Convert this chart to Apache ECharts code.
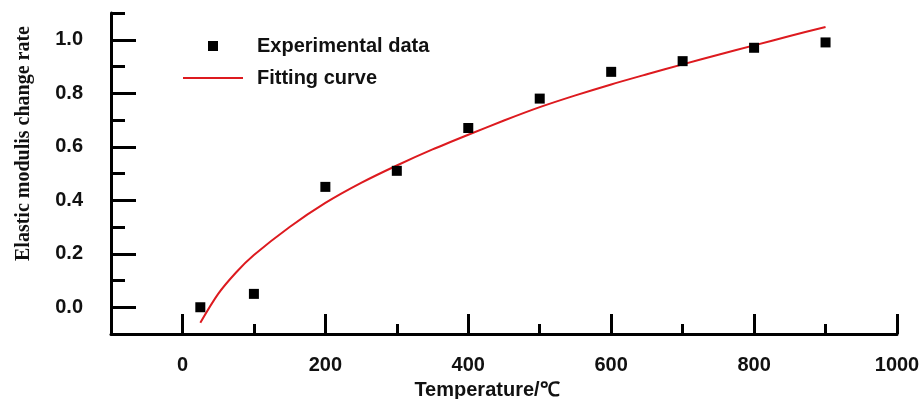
<!DOCTYPE html>
<html lang="en">
<head>
    <meta charset="UTF-8">
    <title>Elastic modulus change rate</title>
    <script src="https://cdn.jsdelivr.net/npm/echarts@6/dist/echarts.min.js"></script>
</head>
<body style="margin:0;background:#fff;">
    <div id="main" style="width:922px;height:399px;"></div>
    <script>
        // experimental points
        var expTemp = [25, 100, 200, 300, 400, 500, 600, 700, 800, 900];
        var expRate = [0.00, 0.05, 0.45, 0.51, 0.67, 0.78, 0.88, 0.92, 0.97, 0.99];
        // fitting curve
        var fitTemp = [25, 50, 75, 100, 150, 200, 250, 300, 350, 400, 450, 500, 550, 600, 650, 700, 750, 800, 850, 900];
        var fitRate = [-0.058, 0.05, 0.13, 0.195, 0.30, 0.39, 0.465, 0.53, 0.59, 0.645, 0.698, 0.748, 0.792, 0.833, 0.871, 0.908, 0.944, 0.979, 1.014, 1.048];
        // ticks
        var xMajor = [0, 200, 400, 600, 800, 1000];
        var xMinor = [100, 300, 500, 700, 900];
        var yMajor = [0, 0.2, 0.4, 0.6, 0.8, 1.0];
        var yMinor = [0.1, 0.3, 0.5, 0.7, 0.9, 1.1];

        var sans = 'Liberation Sans, Arial, sans-serif';

        var zip = function (xs, ys) {
            var res = [];
            for (var i = 0; i < xs.length; i++) {
                res.push([xs[i], ys[i]]);
            }
            return res;
        };

        // legend icons: bbox is the full 60x10 item box, so nothing gets stretched
        var squareIcon = 'path://M0,0h0.01v0.01h-0.01z M60,10h-0.01v-0.01h0.01z M25,0h10v10h-10z';
        var lineIcon = 'path://M0,0h0.01v0.01h-0.01z M60,10h-0.01v-0.01h0.01z M0,4h60v2h-60z';

        var chart = echarts.init(document.getElementById('main'));
        var option = {
            animation: false,
            grid: { left: 111, right: 25, top: 13, bottom: 65, outerBoundsMode: 'none', containLabel: false },
            legend: {
                orient: 'vertical',
                left: 183,
                top: 36,
                padding: 0,
                itemWidth: 60,
                itemHeight: 10,
                itemGap: 12,
                textStyle: { fontFamily: sans, fontWeight: 'bold', fontSize: 20, color: '#111', padding: [0, 0, 0, 9] },
                data: [
                    { name: 'Experimental data', icon: squareIcon, itemStyle: { color: '#000' } },
                    { name: 'Fitting curve', icon: lineIcon, itemStyle: { color: '#dd1a1f' } }
                ]
            },
            xAxis: [{
                type: 'value',
                min: -100,
                max: 1000,
                name: 'Temperature/℃',
                nameLocation: 'middle',
                nameGap: 46,
                nameTextStyle: { fontFamily: sans, fontWeight: 'bold', fontSize: 20, color: '#111', padding: [0, 34, 0, 0] },
                splitLine: { show: false },
                axisLine: { onZero: false, lineStyle: { color: '#000', width: 3 } },
                axisTick: { inside: true, length: 20, customValues: xMajor, lineStyle: { color: '#000', width: 3 } },
                axisLabel: {
                    customValues: xMajor, margin: 21,
                    fontFamily: sans, fontWeight: 'bold', fontSize: 20, color: '#111',
                    formatter: function (v) { return String(v); }
                }
            }, {
                type: 'value',
                min: -100,
                max: 1000,
                position: 'bottom',
                splitLine: { show: false },
                axisLine: { show: false, onZero: false },
                axisTick: { inside: true, length: 10, customValues: xMinor, lineStyle: { color: '#000', width: 3 } },
                axisLabel: { show: false }
            }],
            yAxis: [{
                type: 'value',
                min: -0.1,
                max: 1.1,
                name: 'Elastic modulis change rate',
                nameLocation: 'middle',
                nameGap: 77,
                nameTextStyle: { fontFamily: 'Liberation Serif, Times New Roman, serif', fontWeight: 'bold', fontSize: 20, color: '#111', padding: [0, 0, 0, 60] },
                splitLine: { show: false },
                axisLine: { onZero: false, lineStyle: { color: '#000', width: 3 } },
                axisTick: { inside: true, length: 25, customValues: yMajor, lineStyle: { color: '#000', width: 3 } },
                axisLabel: {
                    customValues: yMajor,
                    margin: 28,
                    fontFamily: sans, fontWeight: 'bold', fontSize: 20, color: '#111',
                    formatter: function (v) { return v.toFixed(1); }
                }
            }, {
                type: 'value',
                min: -0.1,
                max: 1.1,
                position: 'left',
                splitLine: { show: false },
                axisLine: { show: false, onZero: false },
                axisTick: { inside: true, length: 14, customValues: yMinor, lineStyle: { color: '#000', width: 3 } },
                axisLabel: { show: false }
            }],
            series: [{
                name: 'Experimental data',
                type: 'scatter',
                symbol: 'rect',
                symbolSize: 10,
                itemStyle: { color: '#000', opacity: 1 },
                data: zip(expTemp, expRate),
                z: 3
            }, {
                name: 'Fitting curve',
                type: 'line',
                smooth: 0.3,
                symbol: 'none',
                lineStyle: { color: '#dd1a1f', width: 2 },
                itemStyle: { color: '#dd1a1f' },
                data: zip(fitTemp, fitRate),
                z: 2
            }]
        };
        chart.setOption(option);
    </script>
</body>
</html>
